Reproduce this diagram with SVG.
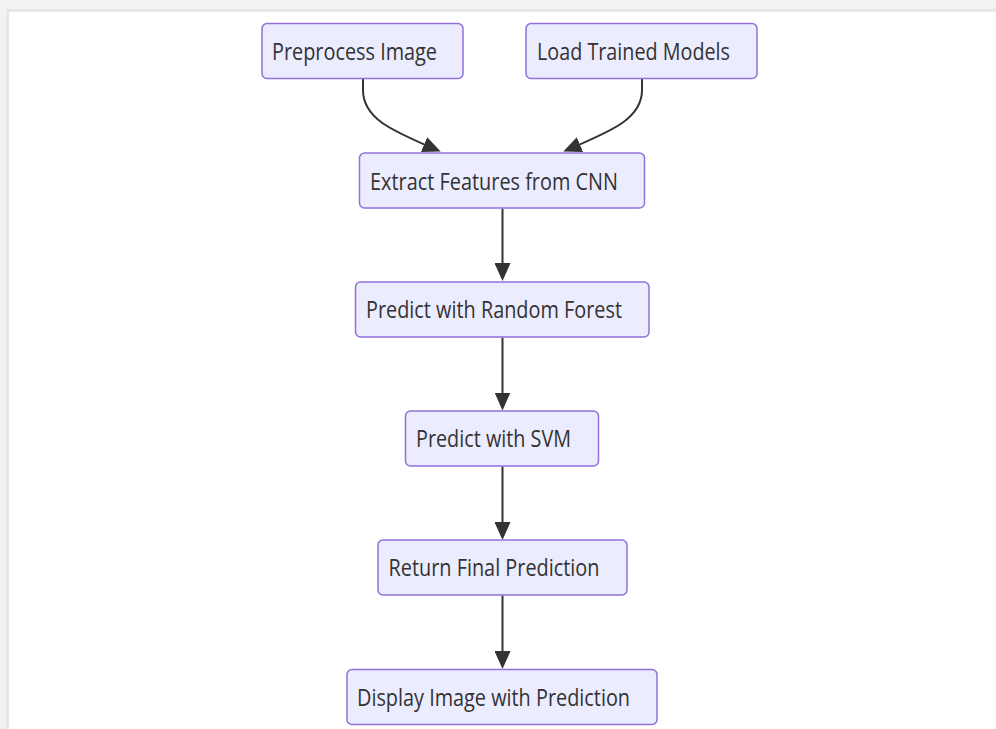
<svg xmlns="http://www.w3.org/2000/svg" width="996" height="729" viewBox="0 0 996 729">
<defs>
<style>
.node rect{fill:#ececff;stroke:#9370db;stroke-width:1.5}
.node text{font-family:"Open Sans","Noto Sans","DejaVu Sans",sans-serif;font-size:23px;fill:#333333}
.edge{fill:none;stroke:#333333;stroke-width:2}
</style>
<marker id="arrow" markerUnits="userSpaceOnUse" markerWidth="18" markerHeight="16" refX="14" refY="8" orient="auto" viewBox="0 0 18 16">
<path d="M0,0 L18,8 L0,16 z" fill="#333333"/>
</marker>
</defs>
<rect x="0" y="0" width="996" height="729" fill="#f2f2f2"/>
<rect x="6" y="9" width="990" height="720" fill="#e7e7e7"/>
<rect x="9" y="12" width="987" height="717" fill="#ffffff"/>

<g id="connectors">
<path class="edge" d="M363,78.5 L363,90 C363,118 390,130 437,150" marker-end="url(#arrow)"/>
<path class="edge" d="M642,78.5 L642,90 C642,118 614,130 567,150" marker-end="url(#arrow)"/>
<path class="edge" d="M502.5,208.5 L502.5,277" marker-end="url(#arrow)"/>
<path class="edge" d="M502.5,337.5 L502.5,406.5" marker-end="url(#arrow)"/>
<path class="edge" d="M502.5,466.5 L502.5,536" marker-end="url(#arrow)"/>
<path class="edge" d="M502.5,595.5 L502.5,665" marker-end="url(#arrow)"/>
</g>

<g id="node-preprocess" class="node">
<rect x="262" y="23.5" width="201" height="55" rx="5"/>
<text x="272" y="60" textLength="165" lengthAdjust="spacingAndGlyphs">Preprocess Image</text>
</g>
<g id="node-load" class="node">
<rect x="526" y="23.5" width="231" height="55" rx="5"/>
<text x="537" y="60" textLength="193" lengthAdjust="spacingAndGlyphs">Load Trained Models</text>
</g>
<g id="node-extract" class="node">
<rect x="359.5" y="153" width="285" height="55" rx="5"/>
<text x="370" y="189.5" textLength="248" lengthAdjust="spacingAndGlyphs">Extract Features from CNN</text>
</g>
<g id="node-rf" class="node">
<rect x="355.5" y="282" width="293.5" height="55" rx="5"/>
<text x="366" y="318" textLength="256" lengthAdjust="spacingAndGlyphs">Predict with Random Forest</text>
</g>
<g id="node-svm" class="node">
<rect x="405.5" y="411" width="193" height="55" rx="5"/>
<text x="416" y="447" textLength="155" lengthAdjust="spacingAndGlyphs">Predict with SVM</text>
</g>
<g id="node-return" class="node">
<rect x="378" y="540" width="249" height="55" rx="5"/>
<text x="388.5" y="576" textLength="211" lengthAdjust="spacingAndGlyphs">Return Final Prediction</text>
</g>
<g id="node-display" class="node">
<rect x="347" y="669.5" width="310" height="55" rx="5"/>
<text x="357" y="705.5" textLength="273" lengthAdjust="spacingAndGlyphs">Display Image with Prediction</text>
</g>
</svg>
